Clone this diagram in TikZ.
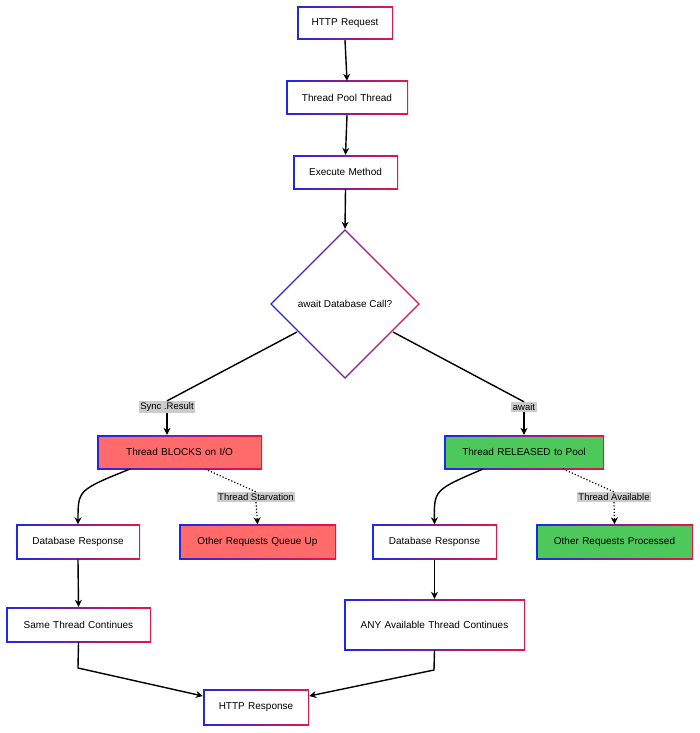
\documentclass[tikz,border=0pt]{standalone}
\usepackage{fontspec}
\setmainfont{Liberation Sans}
\usetikzlibrary{arrows.meta,shapes.geometric}
\definecolor{gB}{RGB}{30,40,230}
\definecolor{gR}{RGB}{235,20,70}
\definecolor{rf}{RGB}{255,107,107}
\definecolor{gf}{RGB}{76,201,90}
\definecolor{lb}{RGB}{204,204,204}
\tikzset{
 edge/.style={line width=1.4pt,-{Stealth[length=7pt,width=7pt]}},
 plain/.style={line width=1.4pt},
 dot/.style={line width=1.2pt,dotted},
 lab/.style={fill=lb,inner sep=1.5pt,font=\fontsize{9.5}{11}\selectfont},
}
\newcommand{\bx}[7]{%
 \node[minimum width=#3pt,minimum height=#4pt,inner sep=0pt,left color=gB,right color=gR,shading angle=90] (#1s) at #2 {};
 \node[minimum width=#3pt-3pt,minimum height=#4pt-3pt,inner sep=0pt,fill=#5,align=center,font=\fontsize{10}{15}\selectfont,text width=#6pt] (#1) at #2 {#7};}
\begin{document}
\begin{tikzpicture}[x=1pt,y=-1pt]
\useasboundingbox[fill=white] (0,0) rectangle (700,733);
\bx{a}{(345,23.5)}{96}{33}{white}{90}{HTTP Request}
\bx{b}{(347,98)}{122}{34}{white}{118}{Thread Pool Thread}
\bx{c}{(345.5,172)}{105}{34}{white}{100}{Execute Method}
\node[diamond,minimum width=150pt,minimum height=150pt,inner sep=0pt,left color=gB,right color=gR,shading angle=90] (ds) at (345,304) {};
\node[diamond,minimum width=146pt,minimum height=146pt,inner sep=0pt,fill=white,align=center,font=\fontsize{10}{12}\selectfont] (d) at (345,304) {await Database Call?};
\bx{e}{(179.5,452)}{165}{34}{rf}{160}{Thread BLOCKS on I/O}
\bx{f}{(524,452)}{160}{34}{gf}{155}{Thread RELEASED to Pool}
\bx{g}{(78,542)}{124}{35}{white}{120}{Database Response}
\bx{h}{(257.5,542)}{157}{35}{rf}{150}{Other Requests Queue Up}
\bx{i}{(434.5,542)}{125}{35}{white}{120}{Database Response}
\bx{j}{(614.5,542)}{157}{35}{gf}{150}{Other Requests Processed}
\bx{k}{(78.5,624.5)}{145}{35}{white}{140}{Same Thread Continues}
\bx{l}{(434.5,624.5)}{181}{51}{white}{150}{ANY Available Thread Continues}
\bx{m}{(256,707)}{106}{36}{white}{100}{HTTP Response}
\draw[edge] (as.south) -- (bs.north);
\draw[edge] (bs.south) -- (cs.north);
\draw[edge] (cs.south) -- (ds.north);
\node[lab] (l1) at (167,407) {Sync .Result};
\node[lab] (l2) at (524,407) {await};
\node[lab] (l3) at (256,497) {Thread Starvation};
\node[lab] (l4) at (614,497) {Thread Available};
\draw[plain] (297,332) -- (l1.north);
\draw[edge] (l1.south) -- (es.north -| l1);
\draw[plain] (393,332) -- (l2.north);
\draw[edge] (l2.south) -- (fs.north);
\draw[edge] (130,469) .. controls (78,490) .. (gs.north);
\draw[edge] (483,469) .. controls (434,490) .. (is.north);
\draw[dot] (205,469) -- (l3.north);
\draw[dot,-{Stealth[length=7pt,width=7pt]}] (l3.south) -- (hs.north);
\draw[dot] (563,469) -- (l4.north);
\draw[dot,-{Stealth[length=7pt,width=7pt]}] (l4.south) -- (js.north);
\draw[edge] (gs.south) -- (ks.north);
\draw[edge] (is.south) -- (ls.north);
\draw[edge] (ks.south) -- (78,668) -- (ms.west |- 0,696);
\draw[edge] (ls.south) -- (434,670) -- (ms.east |- 0,696);
\end{tikzpicture}
\end{document}
